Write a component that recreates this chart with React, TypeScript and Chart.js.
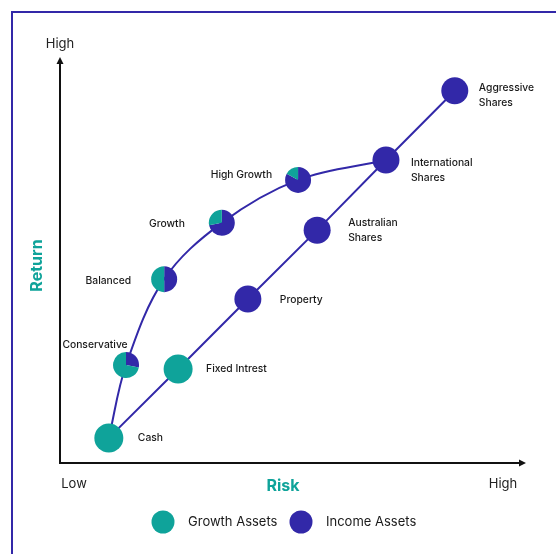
import React, { useEffect, useRef } from "react";
import { Chart, registerables } from "chart.js";

Chart.register(...registerables);

// ---------- data ----------
const incomeNames = ["Cash", "Fixed Intrest", "Property", "Australian\nShares", "International\nShares", "Aggressive\nShares"];
const incomeRisk = [10.5, 25.4, 40.4, 55.3, 70.1, 84.9];
const incomeReturn = [6.2, 23.2, 40.5, 57.5, 74.8, 91.9];
const incomeIncomeShare = [0, 0, 1, 1, 1, 1];

const mixNames = ["Conservative", "Balanced", "Growth", "High Growth"];
const mixRisk = [14.2, 22.4, 34.8, 51.2];
const mixReturn = [24.2, 45.4, 59.3, 69.9];
const mixIncomeShare = [0.28, 0.5, 0.72, 0.83];

const axisLowLabel = "Low";
const axisHighLabel = "High";
const xTitle = "Risk";
const yTitle = "Return";
const legendNames = ["Growth Assets", "Income Assets"];

// ---------- styles ----------
const TEAL = "#0fa39a";
const BLUE = "#3228a8";
const INK = "#1a1a1a";
const FONT = "Inter, 'Noto Sans', sans-serif";

const incomeRadius = [14.5, 14.5, 13.5, 13.5, 13.5, 13.5];
const pieRadius = 13;

const incomeLabelPlace = [
  { dx: 29, dy: 0, align: "left" },
  { dx: 28, dy: 0, align: "left" },
  { dx: 32, dy: 1, align: "left" },
  { dx: 31, dy: 0, align: "left" },
  { dx: 25, dy: 10, align: "left" },
  { dx: 24, dy: 5, align: "left" },
];
const mixLabelPlace = [
  { dx: -31, dy: -20, align: "center" },
  { dx: -33, dy: 2, align: "right" },
  { dx: -37, dy: 1, align: "right" },
  { dx: -26, dy: -5, align: "right" },
];

function drawLabel(ctx: CanvasRenderingContext2D, text: string, x: number, y: number, align: string) {
  const lines = text.split("\n");
  const lh = 15;
  const y0 = y - ((lines.length - 1) * lh) / 2;
  ctx.textAlign = align as CanvasTextAlign;
  ctx.textBaseline = "middle";
  lines.forEach((l, i) => ctx.fillText(l, x, y0 + i * lh));
}

const decorPlugin = {
  id: "decor",
  beforeDraw(chart: any) {
    const ctx = chart.ctx as CanvasRenderingContext2D;
    ctx.save();
    ctx.fillStyle = "#ffffff";
    ctx.fillRect(0, 0, chart.width, chart.height);
    ctx.strokeStyle = BLUE;
    ctx.lineWidth = 2;
    ctx.beginPath();
    ctx.moveTo(12, chart.height + 10);
    ctx.lineTo(12, 12);
    ctx.lineTo(chart.width + 10, 12);
    ctx.stroke();

    const { left, right, top, bottom } = chart.chartArea;
    ctx.strokeStyle = "#111";
    ctx.fillStyle = "#111";
    ctx.lineWidth = 2;
    ctx.beginPath();
    ctx.moveTo(left, top + 4);
    ctx.lineTo(left, bottom);
    ctx.lineTo(right - 4, bottom);
    ctx.stroke();
    // arrow heads
    ctx.beginPath();
    ctx.moveTo(left, top - 1);
    ctx.lineTo(left - 3.5, top + 6);
    ctx.lineTo(left + 3.5, top + 6);
    ctx.closePath();
    ctx.fill();
    ctx.beginPath();
    ctx.moveTo(right + 1, bottom);
    ctx.lineTo(right - 6, bottom - 3.5);
    ctx.lineTo(right - 6, bottom + 3.5);
    ctx.closePath();
    ctx.fill();

    // axis end labels
    ctx.fillStyle = "#222";
    ctx.font = `400 13px ${FONT}`;
    ctx.textBaseline = "middle";
    ctx.textAlign = "center";
    ctx.fillText(axisHighLabel, left, top - 14);
    ctx.fillText(axisLowLabel, left + 14, bottom + 21);
    ctx.fillText(axisHighLabel, right - 22, bottom + 21);

    // titles
    ctx.fillStyle = TEAL;
    ctx.font = `700 16px ${FONT}`;
    ctx.fillText(xTitle, (left + right) / 2 - 9.5, bottom + 23);
    ctx.save();
    ctx.translate(left - 23, (top + bottom) / 2 + 5);
    ctx.rotate(-Math.PI / 2);
    ctx.fillText(yTitle, 0, 0);
    ctx.restore();

    // legend
    const ly = bottom + 59;
    const items = [
      { x: 163, c: TEAL, t: legendNames[0] },
      { x: 301, c: BLUE, t: legendNames[1] },
    ];
    ctx.font = `400 13px ${FONT}`;
    items.forEach((it) => {
      ctx.fillStyle = it.c;
      ctx.beginPath();
      ctx.arc(it.x, ly, 11.5, 0, Math.PI * 2);
      ctx.fill();
      ctx.fillStyle = INK;
      ctx.textAlign = "left";
      ctx.fillText(it.t, it.x + 25, ly);
    });
    ctx.restore();
  },
  afterDatasetsDraw(chart: any) {
    const ctx = chart.ctx as CanvasRenderingContext2D;
    ctx.save();
    // pies for mixed portfolios
    const gm = chart.getDatasetMeta(1);
    mixIncomeShare.forEach((share, i) => {
      const el = gm.data[i + 1];
      const { x, y } = el;
      const start = -Math.PI / 2;
      const mid = start + share * Math.PI * 2;
      ctx.fillStyle = BLUE;
      ctx.beginPath();
      ctx.moveTo(x, y);
      ctx.arc(x, y, pieRadius, start, mid);
      ctx.closePath();
      ctx.fill();
      ctx.fillStyle = TEAL;
      ctx.beginPath();
      ctx.moveTo(x, y);
      ctx.arc(x, y, pieRadius, mid, start + Math.PI * 2);
      ctx.closePath();
      ctx.fill();
    });
    // labels
    ctx.fillStyle = INK;
    ctx.font = `500 10.3px ${FONT}`;
    const im = chart.getDatasetMeta(0);
    incomeNames.forEach((n, i) => {
      const el = im.data[i];
      const p = incomeLabelPlace[i];
      drawLabel(ctx, n, el.x + p.dx, el.y + p.dy, p.align);
    });
    mixNames.forEach((n, i) => {
      const el = gm.data[i + 1];
      const p = mixLabelPlace[i];
      drawLabel(ctx, n, el.x + p.dx, el.y + p.dy, p.align);
    });
    ctx.restore();
  },
};

export default function App() {
  const ref = useRef<HTMLCanvasElement | null>(null);
  useEffect(() => {
    if (!ref.current) return;
    const incomeData = incomeRisk.map((x, i) => ({ x, y: incomeReturn[i] }));
    const growthData = [
      incomeData[0],
      ...mixRisk.map((x, i) => ({ x, y: mixReturn[i] })),
      incomeData[4],
    ];
    const chart = new Chart(ref.current, {
      type: "scatter",
      data: {
        datasets: [
          {
            label: legendNames[1],
            data: incomeData,
            showLine: true,
            borderColor: BLUE,
            borderWidth: 2,
            pointRadius: incomeRadius,
            pointHoverRadius: incomeRadius,
            pointBorderWidth: 0,
            pointBackgroundColor: incomeIncomeShare.map((s) => (s > 0.5 ? BLUE : TEAL)),
            order: 0,
          },
          {
            label: legendNames[0],
            data: growthData,
            showLine: true,
            borderColor: BLUE,
            borderWidth: 2,
            tension: 0.35,
            pointRadius: 0,
            pointHoverRadius: 0,
            order: 1,
          },
        ],
      },
      options: {
        responsive: false,
        animation: false,
        events: [],
        layout: { padding: { left: 60, right: 31, top: 58, bottom: 91 } },
        scales: {
          x: { type: "linear", min: 0, max: 100, display: false },
          y: { type: "linear", min: 0, max: 100, display: false },
        },
        plugins: { legend: { display: false }, tooltip: { enabled: false } },
      },
      plugins: [decorPlugin],
    } as any);
    return () => chart.destroy();
  }, []);
  return (
    <div style={{ position: "absolute", left: 0, top: 0, width: 556, height: 554 }}>
      <canvas ref={ref} width={556} height={554} style={{ display: "block", width: 556, height: 554 }} />
    </div>
  );
}
